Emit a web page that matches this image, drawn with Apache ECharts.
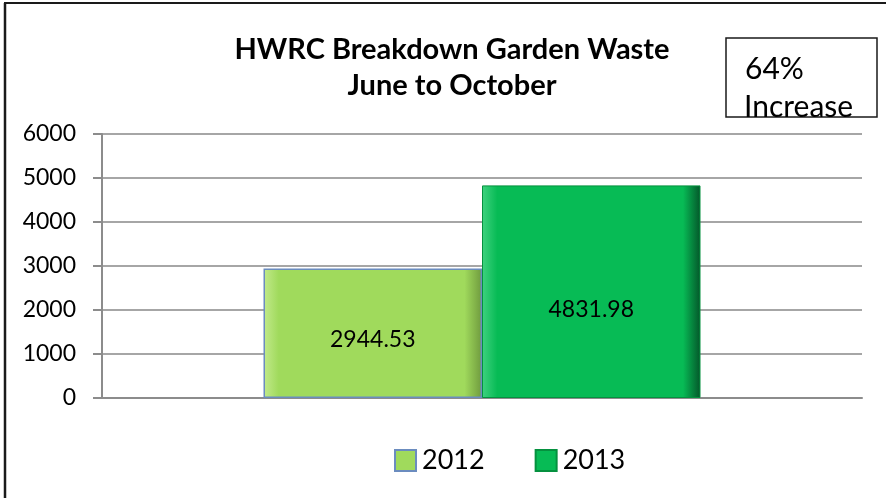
<!DOCTYPE html>
<html>
<head>
<meta charset="utf-8">
<script src="https://cdn.jsdelivr.net/npm/echarts@6/dist/echarts.min.js"></script>
<style>
  html, body { margin: 0; padding: 0; background: #fff; }
  #chart { width: 886px; height: 498px; }
</style>
</head>
<body>
<div id="chart"></div>
<script>
// data
var categories = ['June to October'];
var years = ['2012', '2013'];
var values2012 = [2944.53];
var values2013 = [4831.98];
var yTicks = [0, 1000, 2000, 3000, 4000, 5000, 6000];

var FONT = 'Lato';

function bevel(light, base, dark) {
    return {
        type: 'linear', x: 0, y: 0, x2: 1, y2: 0,
        colorStops: [
            {offset: 0, color: light},
            {offset: 0.07, color: base},
            {offset: 0.92, color: base},
            {offset: 1, color: dark}
        ]
    };
}

var chart = echarts.init(document.getElementById('chart'));
var option = {
    animation: false,
    textStyle: {fontFamily: FONT, color: '#000'},
    title: {
        text: 'HWRC Breakdown Garden Waste\nJune to October',
        left: 447,
        top: 27,
        textAlign: 'center',
        textStyle: {fontFamily: FONT, fontWeight: 'bold', fontSize: 29, lineHeight: 36, color: '#000'}
    },
    grid: {left: 102, right: 24, top: 134, bottom: 100},
    legend: {
        data: years,
        bottom: 19,
        left: 389,
        itemWidth: 21,
        itemHeight: 21,
        itemGap: 50,
        icon: 'rect',
        textStyle: {fontFamily: FONT, fontSize: 27, color: '#000', padding: [0, 0, 0, 1]}
    },
    xAxis: {
        type: 'category',
        data: categories,
        axisLine: {lineStyle: {color: '#8c8c8c', width: 2}},
        axisTick: {show: false},
        axisLabel: {show: false}
    },
    yAxis: {
        type: 'value',
        min: yTicks[0],
        max: yTicks[yTicks.length - 1],
        interval: 1000,
        axisLine: {show: true, lineStyle: {color: '#8c8c8c', width: 2}},
        axisTick: {show: true, length: 9, lineStyle: {color: '#8c8c8c', width: 2}},
        axisLabel: {
            fontFamily: FONT, fontSize: 23, color: '#000', margin: 26,
            formatter: function (v) { return String(v); }
        },
        splitLine: {lineStyle: {color: '#a6a6a6', width: 2}}
    },
    series: [
        {
            name: years[0],
            type: 'bar',
            data: values2012,
            barGap: '0%',
            barCategoryGap: '42.5%',
            itemStyle: {
                color: bevel('#c2ea8c', '#a0da5c', '#6f9a3e'),
                borderColor: '#6b8cbf',
                borderWidth: 1.5
            },
            label: {
                show: true, position: 'inside', offset: [0, 6],
                fontFamily: FONT, fontSize: 23, color: '#000'
            }
        },
        {
            name: years[1],
            type: 'bar',
            data: values2013,
            itemStyle: {
                color: bevel('#3fd27f', '#07bb55', '#04562a'),
                borderColor: '#05913f',
                borderWidth: 1
            },
            label: {
                show: true, position: 'inside', offset: [0, 18],
                fontFamily: FONT, fontSize: 23, color: '#000'
            }
        }
    ],
    graphic: [
        // outer chart frame (top and left edges visible)
        {type: 'line', shape: {x1: 4, y1: 3, x2: 886, y2: 3}, style: {stroke: '#1a1a1a', lineWidth: 2}},
        {type: 'line', shape: {x1: 5, y1: 3, x2: 5, y2: 498}, style: {stroke: '#1a1a1a', lineWidth: 2.5}},
        // "64% Increase" text box
        {type: 'rect', shape: {x: 726, y: 38, width: 151, height: 79},
         style: {fill: '#fff', stroke: '#1a1a1a', lineWidth: 1.5}, z: 10},
        {type: 'text', left: 745, top: 54, z: 11,
         style: {text: '64%', fontFamily: FONT, fontSize: 30, fill: '#000'}},
        {type: 'text', left: 744, top: 92, z: 11,
         style: {text: 'Increase', fontFamily: FONT, fontSize: 30, fill: '#000'}}
    ]
};
chart.setOption(option);
</script>
</body>
</html>
